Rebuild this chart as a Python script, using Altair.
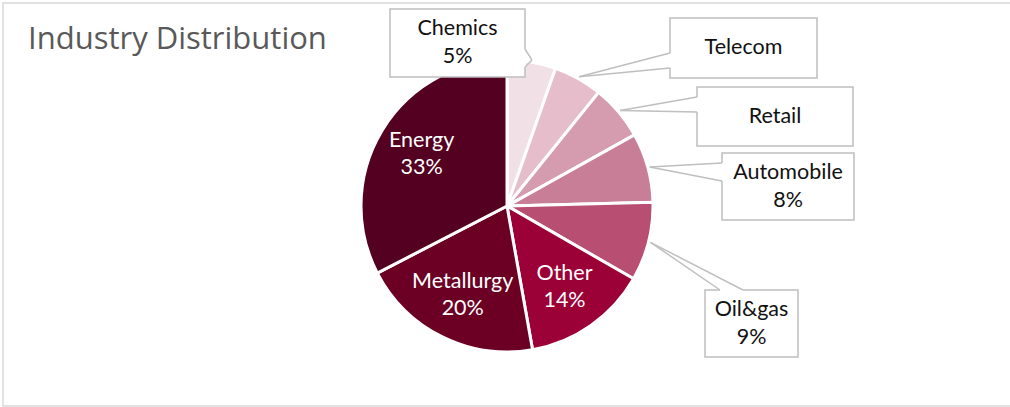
import altair as alt
import pandas as pd

# ---------------- data ----------------
industries = ["Chemics", "Telecom", "Retail", "Automobile", "Oil&gas", "Other", "Metallurgy", "Energy"]
shares = [5.4, 5.4, 6.1, 7.7, 8.7, 13.9, 20.2, 32.6]
show_percent = [True, False, False, True, True, True, True, True]
label_inside = [False, False, False, False, False, True, True, True]
colors = ["#F2E0E7", "#E6BECB", "#D59BAE", "#C97E97", "#B84F72", "#9B0036", "#6B0024", "#540020"]
title_text = "Industry Distribution"

# ---------------- layout ----------------
W, H = 1010, 407
CX, CY, R = 507, 206, 146
TIP_R = 148
INNER_R = 100
FONT = "Lato"
LH_IN, LH_BOX = 27, 28
# callout box: x0, y0, x1, y1, attach point 1 (x, y), attach point 2 (x, y)
callout_layout = {
    "Chemics": (390, 9, 525, 77, 525, 49, 525, 67),
    "Telecom": (670, 18, 817, 78, 670, 53, 670, 68),
    "Retail": (697, 87, 853, 146, 697, 97, 697, 112),
    "Automobile": (722, 153, 854, 220, 722, 163, 722, 181),
    "Oil&gas": (705, 290, 798, 357, 720, 290, 743, 290),
}
cols = ["x0", "y0", "x1", "y1", "ax1", "ay1", "ax2", "ay2"]

rows = []
for i, (name, v, sp, ins) in enumerate(zip(industries, shares, show_percent, label_inside)):
    row = {"idx": i, "industry": name, "share": v, "show_pct": sp, "inside": ins}
    lay = callout_layout.get(name)
    for k, c in enumerate(cols):
        row[c] = lay[k] if lay else None
    rows.append(row)
df = pd.DataFrame(rows)

xs = alt.Scale(domain=[0, W], range=[0, W], nice=False, zero=False)
ys = alt.Scale(domain=[0, H], range=[0, H], nice=False, zero=False)

base = alt.Chart(df)

pie = base.mark_arc(outerRadius=R, stroke="white", strokeWidth=3).encode(
    theta=alt.Theta("share:Q", stack=True),
    color=alt.Color("industry:N", scale=alt.Scale(domain=industries, range=colors), legend=None),
    order=alt.Order("idx:Q"),
    x=alt.value(CX),
    y=alt.value(CY),
)

geo = base.transform_joinaggregate(
    total="sum(share)"
).transform_window(
    cum="sum(share)", sort=[alt.SortField("idx")], frame=[None, 0]
).transform_calculate(
    mid="(datum.cum - datum.share/2)/datum.total*2*PI",
).transform_calculate(
    tip_x=f"{CX} + {TIP_R}*sin(datum.mid)",
    tip_y=f"{CY} - {TIP_R}*cos(datum.mid)",
    in_x=f"{CX} + {INNER_R}*sin(datum.mid)",
    in_y=f"{CY} - {INNER_R}*cos(datum.mid) - (datum.show_pct ? {LH_IN / 2} : 0)",
    pct="format(datum.share/datum.total, '.0%')",
).transform_calculate(
    label="datum.show_pct ? datum.industry + '\\n' + datum.pct : datum.industry",
    bx="(datum.x0 + datum.x1)/2",
    by=f"(datum.y0 + datum.y1)/2 - (datum.show_pct ? {LH_BOX / 2} : 0)",
)

inner = geo.transform_filter("datum.inside")
outer = geo.transform_filter("!datum.inside")

inner_text = inner.mark_text(
    font=FONT, fontSize=21.5, color="white", lineBreak="\n", lineHeight=LH_IN,
    align="center", baseline="middle",
).encode(
    x=alt.X("in_x:Q", scale=xs, axis=None),
    y=alt.Y("in_y:Q", scale=ys, axis=None),
    text="label:N",
)

boxes = outer.mark_rect(fill="white", stroke="#BFBFBF", strokeWidth=1.5).encode(
    x=alt.X("x0:Q", scale=xs, axis=None), x2="x1:Q",
    y=alt.Y("y0:Q", scale=ys, axis=None), y2="y1:Q",
)
gap = outer.mark_rule(color="white", strokeWidth=3).encode(
    x=alt.X("ax1:Q", scale=xs, axis=None), x2="ax2:Q",
    y=alt.Y("ay1:Q", scale=ys, axis=None), y2="ay2:Q",
)
lead1 = outer.mark_rule(color="#BFBFBF", strokeWidth=1.5).encode(
    x=alt.X("tip_x:Q", scale=xs, axis=None), x2="ax1:Q",
    y=alt.Y("tip_y:Q", scale=ys, axis=None), y2="ay1:Q",
)
lead2 = outer.mark_rule(color="#BFBFBF", strokeWidth=1.5).encode(
    x=alt.X("tip_x:Q", scale=xs, axis=None), x2="ax2:Q",
    y=alt.Y("tip_y:Q", scale=ys, axis=None), y2="ay2:Q",
)
box_text = outer.mark_text(
    font=FONT, fontSize=21.5, color="#111111", lineBreak="\n", lineHeight=LH_BOX,
    align="center", baseline="middle",
).encode(
    x=alt.X("bx:Q", scale=xs, axis=None),
    y=alt.Y("by:Q", scale=ys, axis=None),
    text="label:N",
)

one = alt.Chart(pd.DataFrame({"t": [title_text]}))
frame = one.mark_rect(fillOpacity=0, stroke="#D9D9D9", strokeWidth=1.5).encode(
    x=alt.value(3), x2=alt.value(W + 10), y=alt.value(3), y2=alt.value(406),
)
title = one.mark_text(
    font="Open Sans", fontSize=31, color="#595959", align="left",
    baseline="alphabetic",
).encode(x=alt.value(28), y=alt.value(49), text="t:N")

chart = alt.layer(
    frame, pie, inner_text, boxes, gap, lead1, lead2, box_text, title
).resolve_scale(color="independent").properties(
    width=W, height=H, autosize=alt.AutoSizeParams(type="none"), padding=0,
    background="white",
).configure_view(stroke=None)

chart.save("out.html", embed_options={"renderer": "svg", "actions": False})
